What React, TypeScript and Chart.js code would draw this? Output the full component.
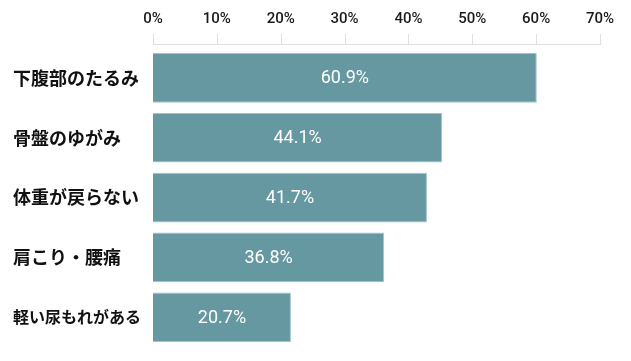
import React, { useEffect, useRef } from "react";
import { Chart, registerables } from "chart.js";

Chart.register(...registerables);

const categories = ["下腹部のたるみ", "骨盤のゆがみ", "体重が戻らない", "肩こり・腰痛", "軽い尿もれがある"];
// bar lengths as drawn in the picture
const barValues = [60.1, 45.3, 42.9, 36.2, 21.6];
// value labels printed inside the bars
const valueLabels = ["60.9%", "44.1%", "41.7%", "36.8%", "20.7%"];
const xTicks = [0, 10, 20, 30, 40, 50, 60, 70];

const BAR_COLOR = "#6698a2";
const BAR_BORDER = "#a3c4cb";

const axisPlugin = {
  id: "topAxisLine",
  afterDraw(chart: any) {
    const { ctx, chartArea } = chart;
    const xs = chart.scales.x;
    const yLine = chartArea.top - 4;
    ctx.save();
    ctx.strokeStyle = "#dedede";
    ctx.lineWidth = 1;
    ctx.beginPath();
    ctx.moveTo(chartArea.left, yLine + 0.5);
    ctx.lineTo(chartArea.right, yLine + 0.5);
    xTicks.forEach((t) => {
      const px = Math.round(xs.getPixelForValue(t)) + 0.5;
      ctx.moveTo(px, yLine - 10);
      ctx.lineTo(px, yLine + 1);
    });
    ctx.stroke();
    ctx.restore();
  },
};

const labelPlugin = {
  id: "barValueLabels",
  afterDatasetsDraw(chart: any) {
    const { ctx } = chart;
    const meta = chart.getDatasetMeta(0);
    ctx.save();
    ctx.fillStyle = "#ffffff";
    ctx.font = "400 18px Roboto";
    ctx.textAlign = "center";
    ctx.textBaseline = "middle";
    meta.data.forEach((el: any, i: number) => {
      const cx = (el.x + el.base) / 2;
      ctx.fillText(valueLabels[i], cx, el.y + 1);
    });
    ctx.restore();
  },
};

export default function App() {
  const ref = useRef<HTMLCanvasElement | null>(null);
  useEffect(() => {
    if (!ref.current) return;
    const chart = new Chart(ref.current, {
      type: "bar",
      data: {
        labels: categories,
        datasets: [
          {
            data: barValues,
            backgroundColor: BAR_COLOR,
            borderColor: BAR_BORDER,
            borderWidth: 1,
            barPercentage: 0.83,
            categoryPercentage: 1,
          },
        ],
      },
      options: {
        indexAxis: "y",
        responsive: false,
        animation: false,
        layout: { padding: { left: 13, right: 31, top: 0, bottom: 12 } },
        plugins: { legend: { display: false }, tooltip: { enabled: false } },
        scales: {
          x: {
            position: "top",
            min: 0,
            max: 70,
            afterFit: (s: any) => {
              s.height = 48;
              s.paddingLeft = 0;
              s.paddingRight = 0;
            },
            afterBuildTicks: (s: any) => {
              s.ticks = xTicks.map((v) => ({ value: v }));
            },
            grid: { display: false, drawTicks: false },
            border: { display: false },
            ticks: {
              padding: 20,
              color: "#1a1a1a",
              font: { family: "Roboto", size: 15, weight: "500" },
              callback: (v: any) => v + "%",
            },
          },
          y: {
            afterFit: (s: any) => {
              s.width = 140;
            },
            grid: { display: false, drawTicks: false },
            border: { display: false },
            ticks: {
              crossAlign: "far",
              color: "#111111",
              font: (c: any) => ({
                family: "'Noto Sans CJK JP'",
                size: c.index === 4 ? 16 : 18,
                weight: "bold",
              }),
            },
          },
        },
      },
      plugins: [axisPlugin, labelPlugin],
    } as any);
    return () => chart.destroy();
  }, []);
  return (
    <div style={{ position: "fixed", left: 0, top: 0, width: 631, height: 361, background: "#fff" }}>
      <canvas ref={ref} width={631} height={361} />
    </div>
  );
}
